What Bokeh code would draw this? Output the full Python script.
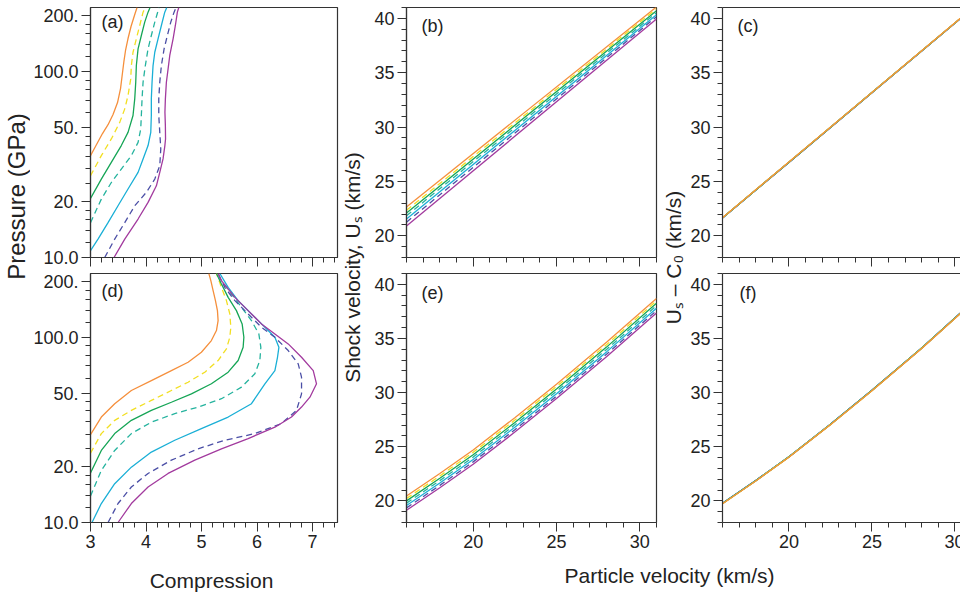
import math
from bokeh.plotting import figure
from bokeh.layouts import row, column
from bokeh.models import (Range1d, FixedTicker, SingleIntervalTicker, Label,
                          LinearAxis, CustomJSTickFormatter)
from bokeh.embed import file_html
from bokeh.resources import INLINE

FONT = "Liberation Sans"

# ---------------- data ----------------
series_colors = ["#F58F3C", "#F2DF22", "#16A556", "#25B39E", "#1AAFD6", "#4B4FA6", "#A23A9E"]
series_dash = ["solid", "6 4", "solid", "6 4", "solid", "6 4", "solid"]

pressure_ticks = [10, 20, 50, 100, 200]
pressure_tick_labels = ["10.0", "20.", "50.", "100.0", "200."]
pressure_minor = [12, 14, 16, 18, 25, 30, 35, 40, 45, 60, 70, 80, 90, 120, 140, 160, 180]

# panel (a): compression vs pressure (GPa)
a1_comp = [3.000, 3.099, 3.216, 3.316, 3.406, 3.487, 3.541, 3.577, 3.604, 3.631, 3.676, 3.730, 3.803, 3.839]
a1_p = [35.3, 40.0, 46.4, 51.8, 58.7, 68.1, 81.0, 98.8, 114.6, 129.8, 150.5, 174.7, 205.3, 221.0]
a2_comp = [3.0, 3.195, 3.375, 3.527, 3.617, 3.676, 3.725, 3.736, 3.766, 3.826, 3.887, 3.947, 3.988]
a2_p = [27.5, 35.3, 43.4, 53.3, 63.0, 74.3, 91.3, 107.7, 127.0, 150.0, 176.9, 208.6, 221.0]
a3_comp = [3.0, 3.195, 3.375, 3.555, 3.676, 3.766, 3.797, 3.815, 3.826, 3.857, 3.916, 3.977, 4.037, 4.073]
a3_p = [20.8, 26.4, 32.5, 40.0, 47.1, 58.0, 71.3, 87.6, 107.7, 132.5, 156.3, 184.3, 208.6, 221.0]
a4_comp = [3.0, 3.195, 3.375, 3.555, 3.736, 3.857, 3.905, 3.916, 3.929, 3.947, 3.988, 4.037, 4.096, 4.158, 4.235]
a4_p = [15.4, 20.6, 25.3, 29.9, 35.3, 41.6, 49.1, 58.0, 71.3, 87.6, 107.7, 132.5, 156.3, 184.3, 221.0]
a5_comp = [3.0, 3.135, 3.316, 3.496, 3.676, 3.857, 3.947, 4.037, 4.086, 4.096, 4.096, 4.109, 4.127, 4.158, 4.217, 4.277, 4.338, 4.374]
a5_p = [10.87, 12.56, 15.4, 18.98, 23.35, 28.7, 33.9, 40.0, 47.1, 58.0, 71.3, 87.6, 107.7, 127.0, 150.0, 176.9, 208.6, 221.0]
a6_comp = [3.256, 3.436, 3.617, 3.797, 4.006, 4.158, 4.248, 4.266, 4.248, 4.230, 4.230, 4.248, 4.277, 4.326, 4.385, 4.446, 4.506, 4.542]
a6_p = [10.0, 12.56, 15.4, 18.98, 22.4, 26.4, 31.2, 38.3, 47.1, 58.0, 71.3, 87.6, 107.7, 132.5, 156.3, 184.3, 208.6, 221.0]
a7_comp = [3.424, 3.617, 3.857, 4.037, 4.187, 4.248, 4.307, 4.340, 4.352, 4.349, 4.341, 4.349, 4.367, 4.398, 4.428, 4.488, 4.529, 4.565, 4.591]
a7_p = [10.0, 12.56, 16.1, 19.78, 24.3, 28.7, 33.9, 40.0, 43.4, 51.2, 60.4, 71.3, 87.6, 103.4, 122.0, 150.0, 176.9, 208.6, 221.0]

# panel (d)
d1_comp = [3.0, 3.195, 3.436, 3.736, 4.096, 4.457, 4.758, 4.998, 5.178, 5.269, 5.299, 5.287, 5.251, 5.209, 5.168, 5.132]
d1_p = [29.8, 37.1, 43.8, 51.6, 58.4, 66.1, 73.3, 83.0, 96.0, 108.7, 123.0, 139.3, 157.7, 178.5, 202.1, 221.0]
d2_comp = [3.0, 3.195, 3.436, 3.736, 4.096, 4.457, 4.758, 5.059, 5.299, 5.449, 5.510, 5.528, 5.510, 5.449, 5.359, 5.269]
d2_p = [23.7, 30.2, 35.6, 40.3, 45.6, 51.6, 57.2, 64.8, 74.9, 86.6, 100.0, 113.2, 133.7, 157.7, 186.0, 221.0]
d3_comp = [3.0, 3.195, 3.436, 3.736, 4.096, 4.457, 4.818, 5.178, 5.480, 5.660, 5.750, 5.763, 5.732, 5.629, 5.480, 5.359, 5.269]
d3_p = [18.5, 24.5, 30.2, 35.6, 40.3, 44.6, 49.5, 56.1, 64.8, 74.9, 88.3, 100.0, 118.1, 139.3, 164.3, 194.0, 221.0]
d4_comp = [3.0, 3.195, 3.436, 3.736, 4.096, 4.518, 4.939, 5.359, 5.720, 5.961, 6.051, 6.069, 6.033, 5.900, 5.720, 5.539, 5.359, 5.269]
d4_p = [13.9, 19.1, 24.5, 30.2, 34.8, 38.7, 42.0, 46.6, 53.8, 63.5, 74.9, 88.3, 104.3, 123.0, 145.1, 171.3, 202.1, 221.0]
d5_comp = [3.027, 3.195, 3.436, 3.736, 4.096, 4.518, 4.998, 5.480, 5.900, 6.142, 6.322, 6.369, 6.394, 6.322, 6.142, 5.900, 5.660, 5.480, 5.330]
d5_p = [10.0, 12.66, 16.2, 19.9, 24.0, 27.8, 32.1, 37.1, 43.8, 56.1, 66.1, 78.0, 88.3, 100.0, 113.2, 133.7, 157.7, 186.0, 221.0]
d6_comp = [3.316, 3.496, 3.736, 4.037, 4.457, 4.939, 5.420, 5.961, 6.441, 6.711, 6.802, 6.802, 6.742, 6.562, 6.322, 6.080, 5.840, 5.601, 5.420, 5.299]
d6_p = [10.0, 12.66, 15.55, 18.4, 21.7, 25.0, 27.8, 30.2, 34.2, 40.3, 49.5, 60.9, 71.9, 84.8, 100.0, 113.2, 133.7, 157.7, 186.0, 221.0]
d7_comp = [3.496, 3.736, 4.037, 4.398, 4.879, 5.359, 5.840, 6.322, 6.621, 6.802, 6.953, 7.072, 7.013, 6.802, 6.562, 6.322, 6.080, 5.840, 5.601, 5.359, 5.299]
d7_p = [10.0, 12.66, 15.55, 18.4, 21.7, 25.0, 28.4, 32.7, 37.1, 42.0, 47.5, 56.1, 66.1, 78.0, 92.1, 104.3, 118.1, 139.3, 164.3, 202.1, 221.0]

# panel (b): shock velocity vs particle velocity (km/s)
b_up = [16, 31]
b1_us = [22.65, 41.05]
b2_us = [22.34, 40.88]
b3_us = [22.09, 40.70]
b4_us = [21.84, 40.52]
b5_us = [21.55, 40.33]
b6_us = [21.25, 40.15]
b7_us = [20.90, 39.94]

# panel (c): Us - C0
c_up = [16, 20, 25, 31]
c1_v = [21.66, 26.78, 33.18, 40.86]
c2_v = [21.66, 26.78, 33.18, 40.86]
c3_v = [21.65, 26.77, 33.17, 40.85]
c4_v = [21.65, 26.77, 33.17, 40.85]
c5_v = [21.64, 26.76, 33.16, 40.84]
c6_v = [21.63, 26.75, 33.15, 40.84]
c7_v = [21.63, 26.75, 33.15, 40.83]

# panel (e)
e_up = [16, 18, 20, 22.5, 25, 28, 31]
e1_us = [20.44, 22.52, 24.70, 27.68, 30.78, 34.64, 38.69]
e2_us = [20.22, 22.30, 24.48, 27.46, 30.56, 34.42, 38.47]
e3_us = [20.00, 22.08, 24.26, 27.24, 30.34, 34.20, 38.25]
e4_us = [19.79, 21.87, 24.04, 27.02, 30.12, 33.98, 38.02]
e5_us = [19.57, 21.65, 23.82, 26.80, 29.90, 33.76, 37.80]
e6_us = [19.35, 21.43, 23.60, 26.57, 29.67, 33.54, 37.57]
e7_us = [19.13, 21.21, 23.38, 26.35, 29.45, 33.32, 37.35]

# panel (f)
f1_v = [19.73, 21.83, 24.03, 27.03, 30.17, 34.08, 38.23]
f2_v = [19.74, 21.84, 24.04, 27.04, 30.18, 34.09, 38.24]
f3_v = [19.75, 21.85, 24.05, 27.05, 30.19, 34.10, 38.25]
f4_v = [19.76, 21.86, 24.06, 27.06, 30.20, 34.11, 38.26]
f5_v = [19.77, 21.87, 24.07, 27.07, 30.21, 34.12, 38.27]
f6_v = [19.77, 21.87, 24.07, 27.07, 30.21, 34.12, 38.27]
f7_v = [19.78, 21.88, 24.08, 27.08, 30.22, 34.13, 38.28]

panel_letters = ["(a)", "(b)", "(c)", "(d)", "(e)", "(f)"]
xlabel_left = "Compression"
xlabel_right = "Particle velocity (km/s)"
ylabel_p = "Pressure (GPa)"
ylabel_us = "Shock velocity, U\u209b (km/s)"
ylabel_diff = "U\u209b \u2013 C\u2080 (km/s)"

# ---------------- styling helpers ----------------
AX = "#333333"
TXT = "#222222"


def style_axis(ax, labels=True):
    ax.axis_line_color = AX
    ax.axis_line_width = 1.2
    ax.major_tick_line_color = AX
    ax.minor_tick_line_color = AX
    ax.major_tick_in = 0
    ax.major_tick_out = 9
    ax.minor_tick_in = 0
    ax.minor_tick_out = 5
    ax.major_label_standoff = 3
    ax.major_label_text_font = FONT
    ax.major_label_text_color = TXT
    if labels:
        ax.major_label_text_font_size = "18px"
    else:
        ax.formatter = CustomJSTickFormatter(code="return ''")
        ax.major_label_text_font_size = "0px"


def panel(xr, yr, fw, fh, mbl, mbr, mbt, mbb, ylog=False, xlabels=True, outline=True):
    p = figure(frame_width=fw, frame_height=fh, x_range=Range1d(*xr), y_range=Range1d(*yr),
               y_axis_type="log" if ylog else "linear", output_backend="svg",
               toolbar_location=None, min_border_left=mbl, min_border_right=mbr,
               min_border_top=mbt, min_border_bottom=mbb, background_fill_color="white")
    p.grid.visible = False
    style_axis(p.left[0], True)
    style_axis(p.below[0], xlabels)
    if outline:
        p.outline_line_color = AX
        p.outline_line_width = 1.2
    else:
        p.outline_line_color = None
        top_axis = LinearAxis(ticker=FixedTicker(ticks=[]), axis_line_color=AX, axis_line_width=1.2,
                              major_tick_out=0, major_tick_in=0, minor_tick_out=0, minor_tick_in=0,
                              major_label_standoff=0, major_label_text_font_size="0px")
        p.add_layout(top_axis, "above")
    return p


def letter(p, txt, x, y, dx, dy):
    p.add_layout(Label(x=x, y=y, x_offset=dx, y_offset=dy, text=txt, text_baseline="top",
                       text_align="left", text_font=FONT, text_font_size="18px",
                       text_color=TXT))


def pressure_axis(p):
    p.left[0].ticker = FixedTicker(ticks=pressure_ticks, minor_ticks=pressure_minor)
    p.left[0].major_label_overrides = {float(t): l for t, l in zip(pressure_ticks, pressure_tick_labels)}
    p.below[0].ticker = SingleIntervalTicker(interval=1, num_minor_ticks=5)


def vel_axes(p):
    p.left[0].ticker = SingleIntervalTicker(interval=5, num_minor_ticks=5)
    p.below[0].ticker = SingleIntervalTicker(interval=5, num_minor_ticks=5)


COMP_R = (3.0, 7.45)
P_R = (10.0, 221.0)
UP_R = (16.0, 31.0)
UP_R3 = (16.0, 16.0 + 242 / 16.6)
US_R = (18.0, 41.0)

TOP_B = 16     # space under the top row frames
BOT_B = 42     # space under the bottom row frames

# column 1
pa = panel(COMP_R, P_R, 247, 250, 56, 3, 7, TOP_B, ylog=True, xlabels=False)
pd = panel(COMP_R, P_R, 247, 249, 56, 3, 0, BOT_B, ylog=True, xlabels=True)
for p in (pa, pd):
    pressure_axis(p)

a_sets = [(a1_comp, a1_p), (a2_comp, a2_p), (a3_comp, a3_p), (a4_comp, a4_p),
          (a5_comp, a5_p), (a6_comp, a6_p), (a7_comp, a7_p)]
d_sets = [(d1_comp, d1_p), (d2_comp, d2_p), (d3_comp, d3_p), (d4_comp, d4_p),
          (d5_comp, d5_p), (d6_comp, d6_p), (d7_comp, d7_p)]
for i, (xs, ys) in enumerate(a_sets):
    pa.line(xs, ys, line_color=series_colors[i], line_width=1.3, line_dash=series_dash[i])
for i, (xs, ys) in enumerate(d_sets):
    pd.line(xs, ys, line_color=series_colors[i], line_width=1.3, line_dash=series_dash[i])
letter(pa, panel_letters[0], COMP_R[0], P_R[1], 11, -4)
letter(pd, panel_letters[3], COMP_R[0], P_R[1], 11, -7)

# column 2
pb = panel(UP_R, US_R, 250, 250, 36, 2, 7, TOP_B, xlabels=False)
pe = panel(UP_R, US_R, 250, 249, 36, 2, 0, BOT_B, xlabels=True)
for p in (pb, pe):
    vel_axes(p)
b_sets = [b1_us, b2_us, b3_us, b4_us, b5_us, b6_us, b7_us]
e_sets = [e1_us, e2_us, e3_us, e4_us, e5_us, e6_us, e7_us]
for i, ys in enumerate(b_sets):
    pb.line(b_up, ys, line_color=series_colors[i], line_width=1.3, line_dash=series_dash[i])
for i, ys in enumerate(e_sets):
    pe.line(e_up, ys, line_color=series_colors[i], line_width=1.3, line_dash=series_dash[i])
letter(pb, panel_letters[1], UP_R[0], US_R[1], 15, -8)
letter(pe, panel_letters[4], UP_R[0], US_R[1], 15, -9)

# column 3 (cut at the right edge of the page)
pc = panel(UP_R3, US_R, 242, 250, 36, 0, 7, TOP_B, xlabels=False, outline=False)
pf = panel(UP_R3, US_R, 242, 249, 36, 0, 0, BOT_B, xlabels=True, outline=False)
for p in (pc, pf):
    vel_axes(p)
c_sets = [c1_v, c2_v, c3_v, c4_v, c5_v, c6_v, c7_v]
f_sets = [f1_v, f2_v, f3_v, f4_v, f5_v, f6_v, f7_v]
for i in reversed(range(7)):
    pc.line(c_up, c_sets[i], line_color=series_colors[i], line_width=1.3)
    pf.line(e_up, f_sets[i], line_color=series_colors[i], line_width=1.3)
letter(pc, panel_letters[2], UP_R3[0], US_R[1], 15, -8)
letter(pf, panel_letters[5], UP_R3[0], US_R[1], 17, -9)


# label strips
def blank(w, h):
    p = figure(width=w, height=h, x_range=Range1d(0, w), y_range=Range1d(0, h),
               output_backend="svg", toolbar_location=None, min_border=0,
               x_axis_location=None, y_axis_location=None)
    p.grid.visible = False
    p.outline_line_color = None
    return p


def vlabel(p, x, y, txt, size):
    p.add_layout(Label(x=x, y=y, text=txt, angle=math.pi / 2, text_align="center",
                       text_baseline="middle", text_font=FONT, text_font_size=size,
                       text_color=TXT))


H = 7 + 250 + TOP_B + 249 + BOT_B   # 564
l1 = blank(30, H)
vlabel(l1, 16, H - 196, ylabel_p, "24px")
l2 = blank(30, H)
vlabel(l2, 12, H - 267, ylabel_us, "21px")
l3 = blank(28, H)
vlabel(l3, 15, H - 257, ylabel_diff, "21px")

SH = 595 - H   # 31
strip = blank(960, SH)
strip.add_layout(Label(x=211, y=15, text=xlabel_left, text_align="center",
                       text_baseline="middle", text_font=FONT,
                       text_font_size="21px", text_color=TXT))
strip.add_layout(Label(x=669, y=20, text=xlabel_right, text_align="center",
                       text_baseline="middle", text_font=FONT,
                       text_font_size="21px", text_color=TXT))

top = row(l1, column(pa, pd), l2, column(pb, pe), l3, column(pc, pf))
layout = column(top, strip)

open("out.html", "w").write(file_html(layout, INLINE))
